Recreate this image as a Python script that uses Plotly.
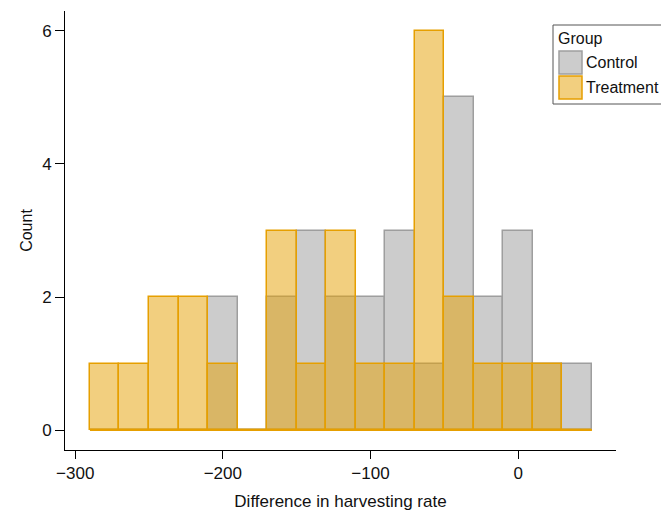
import plotly.graph_objects as go

bin_edges = [-290, -270, -250, -230, -210, -190, -170, -150, -130, -110, -90, -70, -50, -30, -10, 10, 30, 50]
control_counts = [0, 0, 0, 0, 2, 0, 2, 3, 2, 2, 3, 1, 5, 2, 3, 1, 1]
treatment_counts = [1, 1, 2, 2, 1, 0, 3, 1, 3, 1, 1, 6, 2, 1, 1, 1, 0]
group_names = ["Control", "Treatment"]
y_ticks = [0, 2, 4, 6]
x_ticks = [-300, -200, -100, 0]
x_tick_labels = ["\u2212300", "\u2212200", "\u2212100", "0"]

fills = ["rgba(153,153,153,0.5)", "rgba(230,159,0,0.5)"]
edges_col = ["#9e9e9e", "#E69F00"]

centers = [(a + b) / 2 for a, b in zip(bin_edges[:-1], bin_edges[1:])]
widths = [b - a for a, b in zip(bin_edges[:-1], bin_edges[1:])]

# page body has a default 8px margin; size the figure so the plot sits where the reference has it
OFF = 8
W, H = 669 - OFF, 511 - OFF
PL, PR, PT, PB = 65, 616, 11, 450  # plot area in page pixels
L, T = PL - OFF, PT - OFF
R, B = W - (PR - OFF), H - (PB - OFF)
PW, PH = PR - PL, PB - PT
FS = 17


def px(x):
    return (x - PL) / PW


def py(y):
    return (PB - y) / PH


fig = go.Figure()
for name, counts, f, e in zip(group_names, [control_counts, treatment_counts], fills, edges_col):
    fig.add_trace(go.Bar(
        x=centers, y=counts, width=widths, name=name,
        marker=dict(color=f, line=dict(color=e, width=1.5)),
        showlegend=False,
    ))
fig.add_trace(go.Scatter(
    x=[bin_edges[0], bin_edges[-1]], y=[0, 0], mode="lines",
    line=dict(color="#E69F00", width=2), showlegend=False, hoverinfo="skip",
))

shapes = []
annotations = []
shapes.append(dict(type="rect", xref="paper", yref="paper",
                   x0=px(553), x1=px(690), y0=py(104), y1=py(25),
                   line=dict(color="#555", width=1), fillcolor="white", layer="above"))
annotations.append(dict(xref="paper", yref="paper", x=px(556), y=py(38), text="Group",
                        showarrow=False, xanchor="left", yanchor="middle",
                        font=dict(size=16, color="#111")))
for i, (name, f, e) in enumerate(zip(group_names, fills, edges_col)):
    top = 51 + i * 25
    shapes.append(dict(type="rect", xref="paper", yref="paper",
                       x0=px(559), x1=px(582), y0=py(top + 23), y1=py(top),
                       line=dict(color=e, width=1.5), fillcolor=f, layer="above"))
    annotations.append(dict(xref="paper", yref="paper", x=px(584), y=py(top + 11.5), text=name,
                            showarrow=False, xanchor="left", yanchor="middle",
                            font=dict(size=16, color="#111")))

fig.update_layout(
    barmode="overlay",
    bargap=0,
    width=W, height=H,
    margin=dict(l=L, r=R, t=T, b=B, pad=0, autoexpand=False),
    paper_bgcolor="white", plot_bgcolor="white",
    font=dict(family="Liberation Sans, Arial, sans-serif", size=FS, color="#111"),
    showlegend=False,
    shapes=shapes,
    annotations=annotations,
)
fig.update_xaxes(
    range=[-306.9, 66.3], tickvals=x_ticks, ticktext=x_tick_labels,
    showgrid=False, zeroline=False, showline=True, linecolor="black", linewidth=1,
    ticks="outside", ticklen=8, tickcolor="black", tickfont=dict(size=FS),
    title=dict(text="Difference in harvesting rate", standoff=13, font=dict(size=FS)),
    automargin=False,
)
fig.update_yaxes(
    range=[-0.30, 6.30], tickvals=y_ticks,
    showgrid=False, zeroline=False, showline=True, linecolor="black", linewidth=1,
    ticks="outside", ticklen=9, tickcolor="black", tickfont=dict(size=FS),
    title=dict(text="Count", standoff=5, font=dict(size=FS - 1)),
    automargin=False,
)

fig.write_html("out.html")
